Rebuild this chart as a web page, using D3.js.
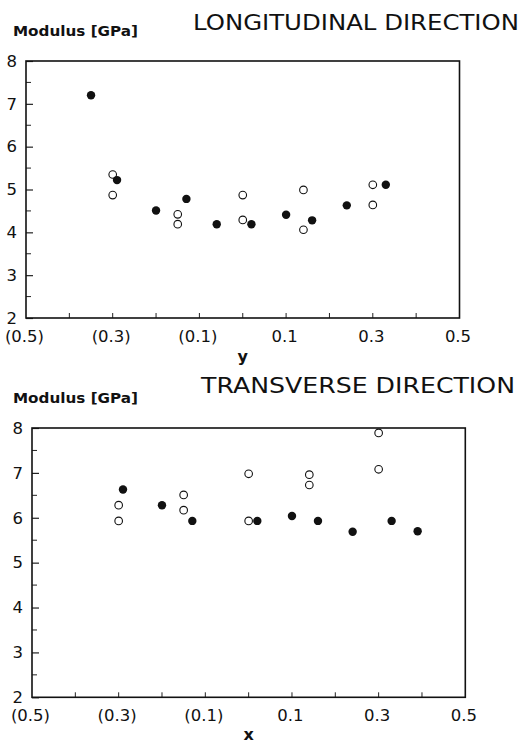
<!DOCTYPE html>
<html>
<head>
<meta charset="utf-8">
<script src="https://cdn.jsdelivr.net/npm/d3@7"></script>
<style>
  body { margin: 0; background: #fff; }
  text { font-family: "DejaVu Sans", "Liberation Sans", Arial, sans-serif; fill: #111; }
</style>
</head>
<body>
<div id="chart"></div>
<script>
// longitudinal direction (top panel), position y
var longFilledX = [-0.35, -0.29, -0.20, -0.13, -0.06, 0.02, 0.10, 0.16, 0.24, 0.33];
var longFilledY = [7.2, 5.22, 4.51, 4.78, 4.19, 4.19, 4.41, 4.28, 4.63, 5.11];
var longOpenX = [-0.30, -0.30, -0.15, -0.15, 0.00, 0.00, 0.14, 0.14, 0.30, 0.30];
var longOpenY = [5.35, 4.87, 4.42, 4.19, 4.87, 4.29, 4.99, 4.06, 5.11, 4.64];

// transverse direction (bottom panel), position x
var transFilledX = [-0.29, -0.20, -0.13, 0.02, 0.10, 0.16, 0.24, 0.33, 0.39];
var transFilledY = [6.63, 6.28, 5.93, 5.93, 6.04, 5.93, 5.69, 5.93, 5.70];
var transOpenX = [-0.30, -0.30, -0.15, -0.15, 0.00, 0.00, 0.14, 0.14, 0.30, 0.30];
var transOpenY = [6.28, 5.93, 6.51, 6.17, 6.98, 5.93, 6.96, 6.73, 7.89, 7.08];

var xTickLabels = [-0.5, -0.3, -0.1, 0.1, 0.3, 0.5];
var yTickLabels = [2, 3, 4, 5, 6, 7, 8];

var width = 525, height = 744;

var svg = d3.select("#chart").append("svg")
    .attr("width", width)
    .attr("height", height);

function fmtX(v) {
    var s = Math.abs(v).toFixed(1);
    return v < 0 ? "(" + s + ")" : s;
}

function zip(xs, ys) {
    return xs.map(function(d, i) { return [d, ys[i]]; });
}

function panel(opt) {
    var x = d3.scaleLinear().domain([-0.5, 0.5]).range([opt.left, opt.right]);
    var y = d3.scaleLinear().domain([2, 8]).range([opt.bottom, opt.top]);
    var g = svg.append("g");

    // titles
    g.append("text")
        .attr("x", 13)
        .attr("y", opt.top - 25)
        .attr("textLength", 125)
        .attr("lengthAdjust", "spacingAndGlyphs")
        .style("font-size", "13.5px")
        .style("font-weight", "bold")
        .text("Modulus [GPa]");
    g.append("text")
        .attr("x", opt.titleX)
        .attr("y", opt.titleY)
        .attr("textLength", opt.titleW)
        .attr("lengthAdjust", "spacingAndGlyphs")
        .style("font-size", "20.5px")
        .text(opt.title);

    // minor ticks on y (half units) and x (every 0.1)
    var minorY = d3.range(2.5, 8, 1);
    g.selectAll(".my").data(minorY).enter().append("line")
        .attr("x1", opt.left).attr("x2", opt.left + 5)
        .attr("y1", function(d) { return y(d); })
        .attr("y2", function(d) { return y(d); })
        .attr("stroke", "#222").attr("stroke-width", 1);
    g.selectAll(".mx").data(d3.range(-4, 5).map(function(i) { return i / 10; })).enter().append("line")
        .attr("x1", function(d) { return x(d); })
        .attr("x2", function(d) { return x(d); })
        .attr("y1", opt.bottom).attr("y2", opt.bottom - 5)
        .attr("stroke", "#222").attr("stroke-width", 1);

    // y axis
    var yAxis = d3.axisLeft(y).tickValues(yTickLabels).tickSize(-7).tickPadding(9)
        .tickFormat(d3.format("d"));
    var ya = g.append("g").attr("transform", "translate(" + opt.left + ",0)").call(yAxis);
    ya.select(".domain").remove();
    ya.selectAll("line").attr("stroke", "#222").attr("stroke-width", 1.2);
    ya.selectAll("text").style("font-size", "16.5px").attr("font-family", null);

    // x axis labels
    var xAxis = d3.axisBottom(x).tickValues(xTickLabels).tickSize(0).tickPadding(12)
        .tickFormat(fmtX);
    var xa = g.append("g").attr("transform", "translate(0," + opt.bottom + ")").call(xAxis);
    xa.select(".domain").remove();
    xa.selectAll("text").style("font-size", "16.5px").attr("font-family", null)
        .attr("dx", "-2");

    g.append("text")
        .attr("x", (opt.left + opt.right) / 2)
        .attr("y", opt.bottom + opt.nameDy)
        .attr("text-anchor", "middle")
        .style("font-size", "16px")
        .style("font-weight", "bold")
        .text(opt.axisName);

    // frame
    g.append("rect")
        .attr("x", opt.left).attr("y", opt.top)
        .attr("width", opt.right - opt.left)
        .attr("height", opt.bottom - opt.top)
        .attr("fill", "none")
        .attr("stroke", "#111")
        .attr("stroke-width", 1.6);

    // points
    g.selectAll(".open").data(opt.open).enter().append("circle")
        .attr("cx", function(d) { return x(d[0]); })
        .attr("cy", function(d) { return y(d[1]); })
        .attr("r", 3.8)
        .attr("fill", "#fff")
        .attr("stroke", "#111")
        .attr("stroke-width", 1.1);
    g.selectAll(".filled").data(opt.filled).enter().append("circle")
        .attr("cx", function(d) { return x(d[0]); })
        .attr("cy", function(d) { return y(d[1]); })
        .attr("r", 4.2)
        .attr("fill", "#111");
}

panel({
    left: 26, right: 459.5, top: 61, bottom: 318,
    title: "LONGITUDINAL DIRECTION", titleX: 193, titleY: 30, titleW: 326,
    axisName: "y", nameDy: 44,
    filled: zip(longFilledX, longFilledY),
    open: zip(longOpenX, longOpenY)
});

panel({
    left: 32, right: 465.3, top: 428, bottom: 697.3,
    title: "TRANSVERSE DIRECTION", titleX: 201, titleY: 393, titleW: 314,
    axisName: "x", nameDy: 43,
    filled: zip(transFilledX, transFilledY),
    open: zip(transOpenX, transOpenY)
});
</script>
</body>
</html>
